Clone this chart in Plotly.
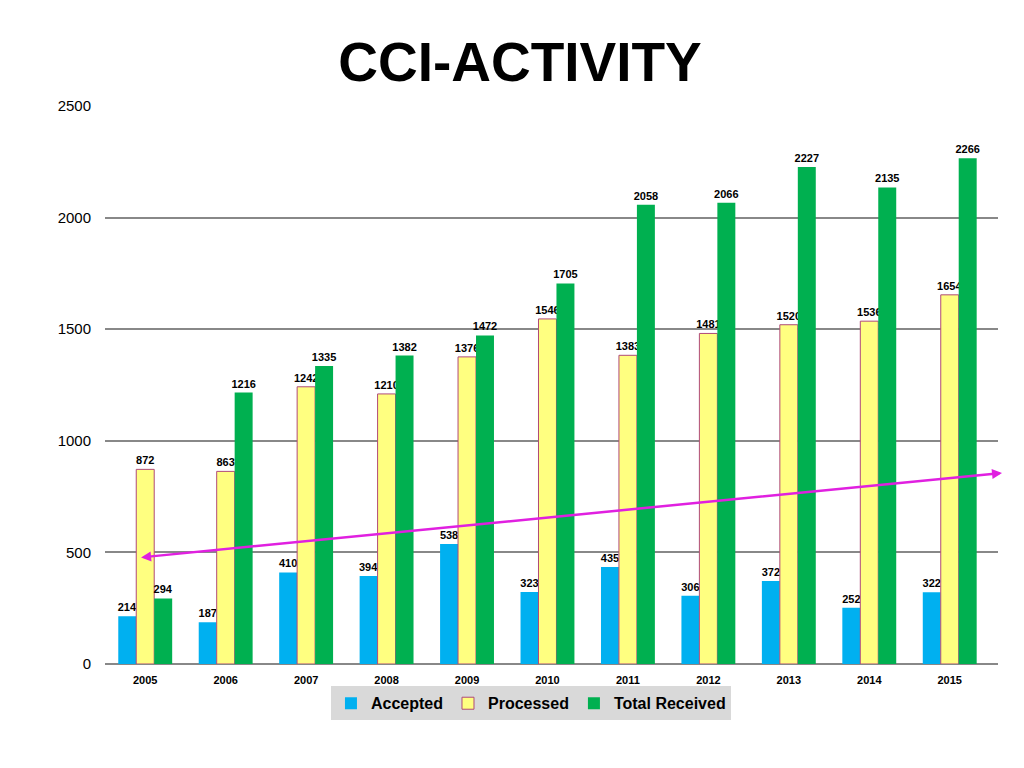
import plotly.graph_objects as go

years = ["2005", "2006", "2007", "2008", "2009", "2010", "2011", "2012", "2013", "2014", "2015"]
accepted = [214, 187, 410, 394, 538, 323, 435, 306, 372, 252, 322]
processed = [872, 863, 1242, 1210, 1376, 1546, 1383, 1481, 1520, 1536, 1654]
total_received = [294, 1216, 1335, 1382, 1472, 1705, 2058, 2066, 2227, 2135, 2266]

# hand-drawn trend arrow (category index, value)
trend_x = [-0.07, 10.65]
trend_y = [477, 856]

FONT = "Liberation Sans"
lbl_font = dict(family=FONT, size=11, color="black", weight="bold")

fig = go.Figure()
fig.add_trace(go.Bar(x=years, y=accepted, name="Accepted",
                     marker=dict(color="#00B0F0", line=dict(width=0)),
                     text=accepted, textposition="outside", textfont=lbl_font,
                     cliponaxis=False))
fig.add_trace(go.Bar(x=years, y=processed, name="Processed",
                     marker=dict(color="#FFFF80", line=dict(color="#B04A78", width=1)),
                     text=processed, textposition="outside", textfont=lbl_font,
                     cliponaxis=False))
fig.add_trace(go.Bar(x=years, y=total_received, name="Total Received",
                     marker=dict(color="#00B050", line=dict(width=0)),
                     text=total_received, textposition="outside", textfont=lbl_font,
                     cliponaxis=False))

fig.add_annotation(x=trend_x[1], y=trend_y[1], ax=trend_x[0], ay=trend_y[0],
                   xref="x", yref="y", axref="x", ayref="y",
                   showarrow=True, arrowhead=2, startarrowhead=2, arrowside="end+start",
                   arrowwidth=2.5, arrowcolor="#E020E0", arrowsize=0.8, startarrowsize=0.8,
                   text="")

fig.update_layout(
    width=1024, height=768,
    paper_bgcolor="white", plot_bgcolor="white",
    margin=dict(l=97, r=34, t=98, b=112),
    uniformtext=dict(minsize=11, mode="show"),
    title=dict(text="<b>CCI-ACTIVITY</b>", x=0.5, xanchor="center", y=0.93, yanchor="middle",
               font=dict(family=FONT, size=55, color="black")),
    barmode="group", bargap=0.33, bargroupgap=0,
    showlegend=True,
    legend=dict(orientation="h", x=0.477, xanchor="center", y=-0.04, yanchor="top",
                bgcolor="#D9D9D9", font=dict(family=FONT, size=16, color="black", weight="bold"),
                itemwidth=30, tracegroupgap=0),
    xaxis=dict(type="category", range=[-0.5, 10.6], showgrid=False, showline=False,
               ticks="outside", ticklen=6, tickcolor="rgba(0,0,0,0)",
               tickfont=dict(family=FONT, size=11, color="black", weight="bold")),
    yaxis=dict(range=[0, 2500], tickvals=[0, 500, 1000, 1500, 2000, 2500],
               showgrid=True, gridcolor="#888888", gridwidth=2,
               zeroline=True, zerolinecolor="#888888", zerolinewidth=2,
               ticks="outside", ticklen=10, tickcolor="rgba(0,0,0,0)",
               tickfont=dict(family=FONT, size=15, color="black")),
)

fig.write_html("out.html")
